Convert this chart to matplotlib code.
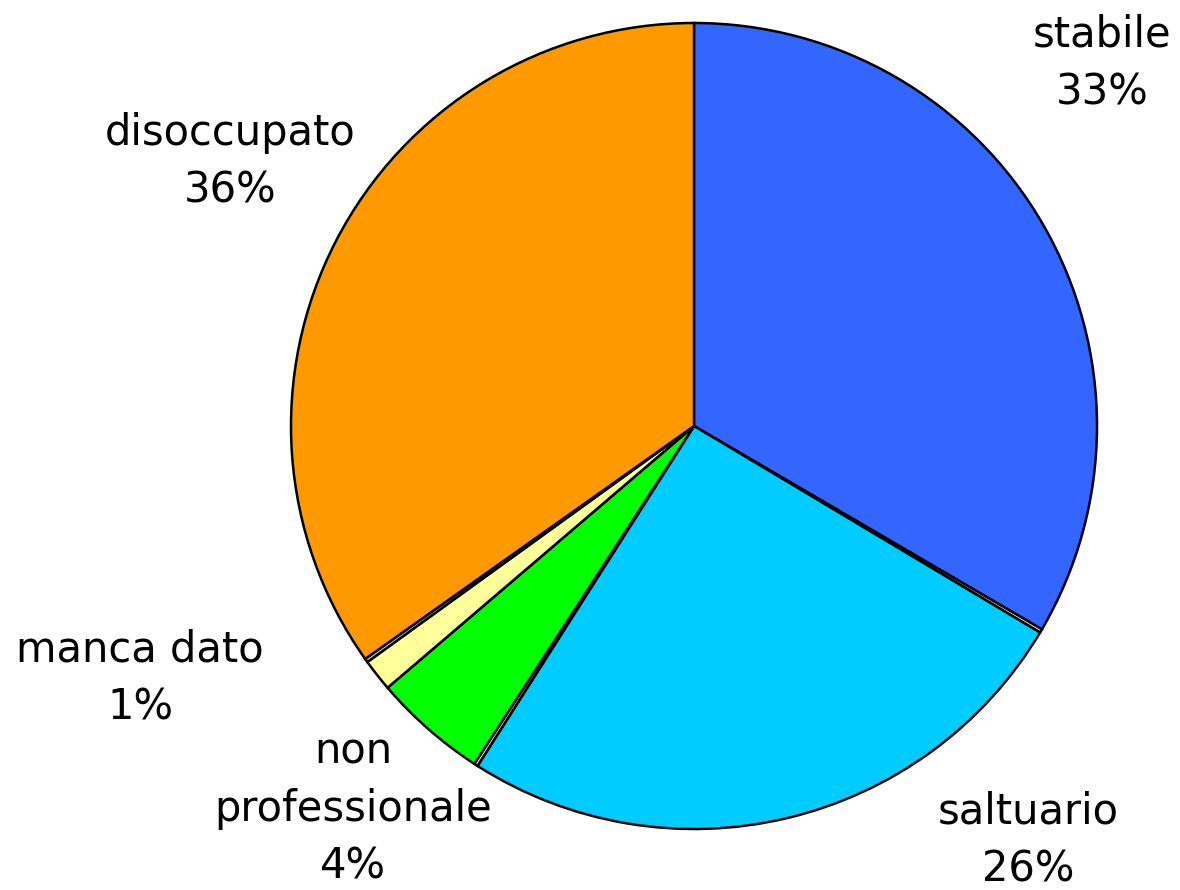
import matplotlib.pyplot as plt

# slices clockwise from 12 o'clock; the unnamed ones are the hairline gaps
names = ["stabile", "", "saltuario", "", "non\nprofessionale", "manca dato", "", "disoccupato"]
values = [33.6, 0.15, 25.6, 0.15, 4.6, 1.3, 0.15, 35.0]
pct_labels = ["33%", "", "26%", "", "4%", "1%", "", "36%"]
colors = ["#3366FF", "#E0E0E0", "#00CCFF", "#E0E0E0", "#00FF00", "#FFFF99", "#E0E0E0", "#FF9900"]

# label anchors in pixels of the original picture (x, y of first line)
label_px = {0: (1102, 35), 2: (1028, 812), 4: (353, 752), 5: (140, 650), 7: (230, 133)}

W, H = 1180, 890
cx, cy, R = 694, 426, 403

fig = plt.figure(figsize=(W / 100, H / 100), dpi=100)
ax = fig.add_axes([0, 0, 1, 1])
ax.pie(values, colors=colors, startangle=90, counterclock=False, radius=1,
       wedgeprops=dict(edgecolor="black", linewidth=1.8))
ax.set_xlim(-cx / R, (W - cx) / R)
ax.set_ylim(-(H - cy) / R, cy / R)
ax.set_aspect("equal")
ax.axis("off")

line = 57  # pixel spacing between text lines
for i, (px, py) in label_px.items():
    text = names[i] + "\n" + pct_labels[i]
    n = text.count("\n") + 1
    yc = py + (n - 1) * line / 2
    ax.text((px - cx) / R, (cy - yc) / R, text, ha="center", va="center",
            fontsize=30, family="DejaVu Sans", linespacing=1.48)

fig.savefig("out.png", dpi=100)
